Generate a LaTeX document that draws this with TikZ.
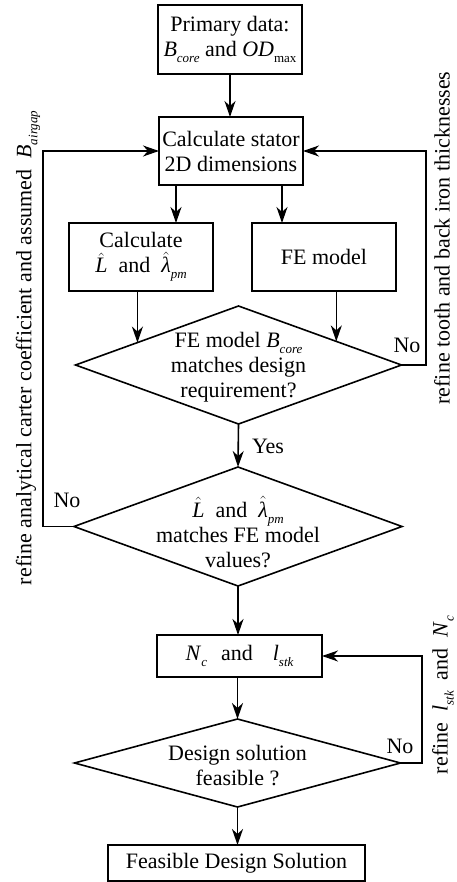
\documentclass[tikz,border=0pt]{standalone}
\usepackage{fontspec}
\usepackage{amsmath}
\setmainfont{Liberation Serif}
\usetikzlibrary{arrows.meta,shapes.geometric,calc}

% small lowered subscripts, italic and upright
\newcommand\dsub[1]{\raisebox{-6pt}{\fontsize{13}{13}\selectfont\itshape #1}}
\newcommand\usub[1]{\raisebox{-6pt}{\fontsize{13}{13}\selectfont #1}}
\newcommand\hatL{$\hat{\textit{L}}$}
\newcommand\hatlam{$\hat{\textit{λ}}$}

\begin{document}
\begin{tikzpicture}[x=1pt,y=-1pt,
  every node/.style={font=\fontsize{22}{25}\selectfont, inner sep=0pt, outer sep=0pt},
  box/.style={draw, rectangle, line width=1.6pt, align=center},
  dia/.style={draw, diamond, line width=1.6pt},
  txt/.style={align=center},
  arr/.style={-{Stealth[length=16pt,width=11pt,inset=5pt]}, line width=1.6pt},
  line/.style={line width=1.6pt}]
\useasboundingbox (0,0) rectangle (456,882);

% process boxes
\node[box, minimum width=144pt, minimum height=69pt] (n0) at (230,39.5)
  {Primary data:\\ \textit{B}\dsub{core} and \textit{OD}\usub{max}};
\node[box, minimum width=144pt, minimum height=68pt] (n1) at (231,151)
  {Calculate stator\\2D dimensions};
\node[box, minimum width=144pt, minimum height=68pt] (n2) at (141,257)
  {Calculate\\ \hatL~ and~ \hatlam\dsub{pm}};
\node[box, minimum width=144pt, minimum height=68pt] (n3) at (324,257)
  {FE model};
\node[box, minimum width=165pt, minimum height=42pt] (n4) at (239.5,656)
  {\textit{N}\dsub{c}\hspace{14pt}and\hspace{20pt}\textit{l}\dsub{stk}};
\node[box, minimum width=257pt, minimum height=36pt] (n5) at (236.5,863)
  {Feasible Design Solution};

% decisions
\node[dia, minimum width=326pt, minimum height=118pt] (d1) at (238.5,365) {};
\node[txt] (t1) at (238.5,367)
  {FE model \textit{B}\dsub{core}\\matches design\\requirement?};
\node[dia, minimum width=328pt, minimum height=119pt] (d2) at (238,526.5) {};
\node[txt] (t2) at (238,532)
  {\hatL~ and~ \hatlam\dsub{pm}\\matches FE model\\values?};
\node[dia, minimum width=326pt, minimum height=88pt] (d3) at (237.5,763) {};
\node[txt] (t3) at (237.5,766) {Design solution\\feasible ?};

% forward flow
\coordinate (xl) at (176,0);
\coordinate (xr) at (282,0);
\draw[arr] (n0.south) -- (n0.south |- n1.north);
\draw[arr] (n1.south -| xl) -- (n2.north -| xl);
\draw[arr] (n1.south -| xr) -- (n3.north -| xr);
\coordinate (e1) at ($(d1.north)!0.62!(d1.west)$);
\coordinate (e2) at ($(d1.north)!0.60!(d1.east)$);
\draw[arr] (n2.south -| e1) -- (e1);
\draw[arr] (n3.south -| e2) -- (e2);
\draw[arr] (d1.south) -- (d2.north);
\node[anchor=west] (yes) at (252,446) {Yes};
\draw[arr] (d2.south) -- (d2.south |- n4.north);
\draw[arr] (n4.south -| d3.north) -- (d3.north);
\draw[arr] (d3.south) -- (d3.south |- n5.north);

% feedback loops
\coordinate (r1) at (426,365);
\draw[arr] (d1.east) -- (r1) |- (n1.east);
\node (no1) at (407,345) {No};
\coordinate (l1) at (43,526.5);
\draw[arr] (d2.west) -- (l1) |- (n1.west);
\node (no2) at (67,500) {No};
\coordinate (r3) at (422,763);
\draw[arr] (d3.east) -- (r3) |- (n4.east);
\node (no3) at (400,746) {No};

% loop labels
\node[rotate=90] (fb1) at (28,348)
  {refine analytical carter coefficient and assumed~ \textit{B}\dsub{airgap}};
\node[rotate=90] (fb2) at (442,238) {refine tooth and back iron thicknesses};
\node[rotate=90] (fb3) at (443,695)
  {refine~ \textit{l}\dsub{stk}~ and~ \textit{N}\dsub{c}};
\end{tikzpicture}
\end{document}
